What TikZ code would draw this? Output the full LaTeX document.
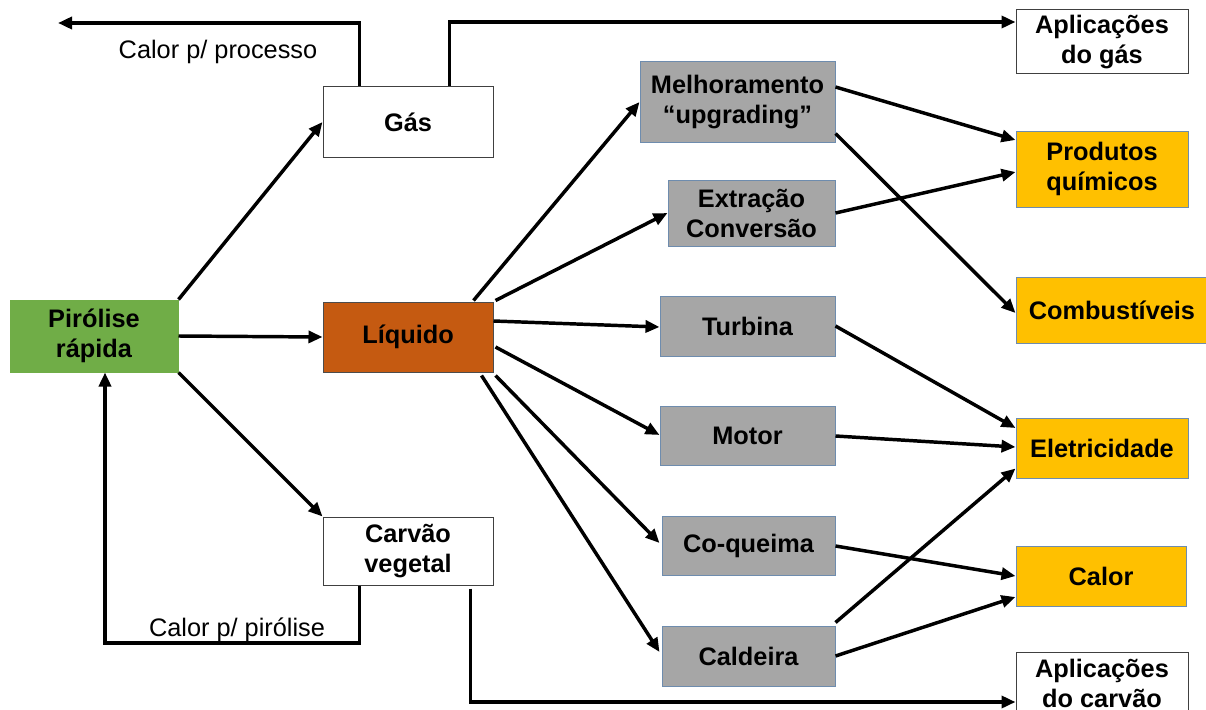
\documentclass[tikz,border=0pt]{standalone}
\usepackage{fontspec}
\setmainfont{Liberation Sans}
\usetikzlibrary{arrows.meta,calc}
\definecolor{pgreen}{HTML}{70AD47}
\definecolor{porange}{HTML}{C55A11}
\definecolor{pgray}{HTML}{A6A6A6}
\definecolor{pyellow}{HTML}{FFC000}
\definecolor{bluegray}{HTML}{6E8CAE}
\begin{document}
\begin{tikzpicture}[x=0.75pt,y=-0.75pt,
  box/.style={draw, line width=0.75pt, font=\bfseries\fontsize{19}{22.5}\selectfont, align=center, inner sep=0pt, text=black},
  whitebox/.style={box, fill=white, draw=black!75},
  graybox/.style={box, fill=pgray, draw=bluegray},
  yelbox/.style={box, fill=pyellow, draw=bluegray},
  arr/.style={line width=2.6pt, -{Triangle[length=10.5pt,width=9pt]}},
  lbl/.style={font=\fontsize{19}{22.5}\selectfont, inner sep=0pt}]
\useasboundingbox (0,0) rectangle (1206,710);
\clip (0,0) rectangle (1206,710);
\fill[white] (0,0) rectangle (1206,710);

% nodes
\node[box, fill=pgreen, draw=pgreen, minimum width=126pt, minimum height=54pt] (pir) at (94,336) {Pirólise\\rápida};
\node[whitebox, minimum width=127.5pt, minimum height=52.5pt] (gas) at (408,122) {Gás};
\node[box, fill=porange, draw=black!70, minimum width=127.5pt, minimum height=52.5pt] (liq) at (408,337) {Líquido};
\node[whitebox, minimum width=127.5pt, minimum height=51pt] (car) at (408,551) {Carvão\\vegetal};

\node[graybox, minimum width=146.25pt, minimum height=60pt] (mel) at (737.5,102) {Melhoramento\\“upgrading”};
\node[graybox, minimum width=125.25pt, minimum height=49.5pt] (ext) at (751.5,213) {Extração\\Conversão};
\node[graybox, minimum width=131.25pt, minimum height=45pt] (tur) at (747.5,326) {Turbina};
\node[graybox, minimum width=131.25pt, minimum height=44.25pt] (mot) at (747.5,436) {Motor};
\node[graybox, minimum width=129.75pt, minimum height=44.25pt] (coq) at (748.5,546) {Co-queima};
\node[graybox, minimum width=129.75pt, minimum height=45pt] (cal) at (748.5,656) {Caldeira};

\node[whitebox, minimum width=129pt, minimum height=48pt] (apg) at (1102,42) {Aplicações\\do gás};
\node[yelbox, minimum width=129pt, minimum height=57pt] (prod) at (1102,169) {Produtos\\químicos};
\node[yelbox, minimum width=144pt, minimum height=49.5pt] (comb) at (1112,310) {Combustíveis};
\node[yelbox, minimum width=129pt, minimum height=45pt] (ele) at (1102,448) {Eletricidade};
\node[yelbox, minimum width=127.5pt, minimum height=45pt] (calor) at (1101,576) {Calor};
\node[whitebox, minimum width=129pt, minimum height=46.5pt] (apc) at (1102,683) {Aplicações\\do carvão};

% free ends and labels
\coordinate (cpp) at (58,23);
\coordinate (cpl) at (105,643);
\node[lbl] (lcpp) at (218,52) {Calor p/ processo};
\node[lbl] (lcpl) at (237,630) {Calor p/ pirólise};

% connectors from Pirolise
\draw[arr] (pir.north east) -- (gas.west);
\draw[arr] (pir.east) -- (liq.west);
\draw[arr] (pir.south east) -- (car.north west);

% gas
\draw[arr] ($(gas.north west)+(37,0)$) |- (cpp);
\draw[arr] ($(gas.north west)+(127,0)$) |- ($(apg.west)+(0,-20)$);

% carvao
\draw[arr] ($(car.south west)+(37,0)$) |- (cpl) -- ($(pir.south)+(11,0)$);
\draw[arr] ($(car.south west)+(148,3)$) |- ($(apc.west)+(0,19)$);

% liquido
\draw[arr] ($(liq.north east)+(-20,-1)$) -- (mel.west);
\draw[arr] ($(liq.north east)+(2,-1)$) -- (ext.west);
\draw[arr] ($(liq.east)+(0,-16)$) -- ($(tur.west)+(0,1)$);
\draw[arr] ($(liq.east)+(2,10)$) -- ($(mot.west)+(0,-1)$);
\draw[arr] ($(liq.south east)+(2,3)$) -- ($(coq.west)+(-2,-3)$);
\draw[arr] ($(liq.south east)+(-12,3)$) -- ($(cal.west)+(-2,-4)$);

% to products
\draw[arr] ($(mel.east)+(0,-15)$) -- ($(prod.west)+(0,-29)$);
\draw[arr] ($(mel.south east)+(0,-9)$) -- ($(comb.west)+(0,3)$);
\draw[arr] (ext.east) -- ($(prod.west)+(0,3)$);
\draw[arr] (tur.east) -- ($(ele.west)+(0,-20)$);
\draw[arr] (mot.east) -- ($(ele.west)+(0,-1)$);
\draw[arr] ($(cal.north east)+(0,-3)$) -- ($(ele.south west)+(0,-10)$);
\draw[arr] (coq.east) -- (calor.west);
\draw[arr] (cal.east) -- ($(calor.west)+(0,21)$);
\end{tikzpicture}
\end{document}
